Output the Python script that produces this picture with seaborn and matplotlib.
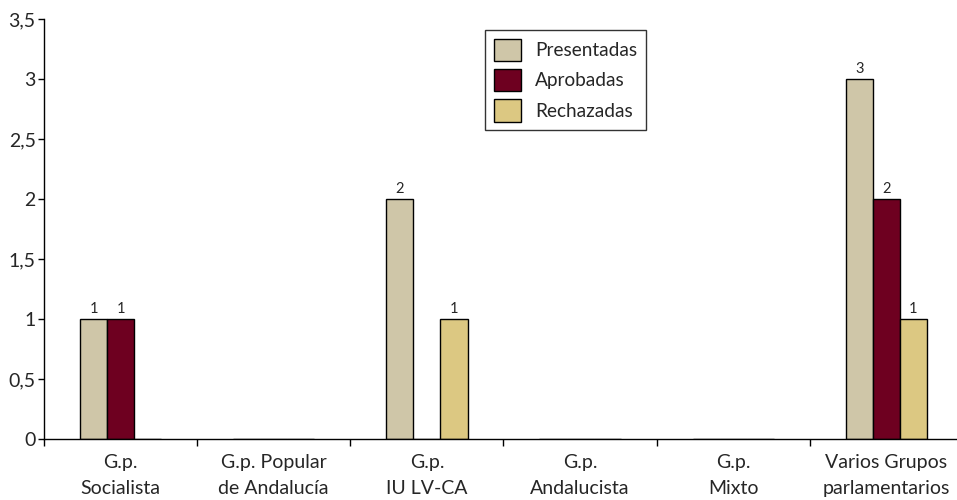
import matplotlib
matplotlib.use("Agg")
import matplotlib.pyplot as plt
import seaborn as sns
import pandas as pd
import numpy as np

categories = ["G.p.\nSocialista", "G.p. Popular\nde Andalucía", "G.p.\nIU LV-CA",
              "G.p.\nAndalucista", "G.p.\nMixto", "Varios Grupos\nparlamentarios"]
series = ["Presentadas", "Aprobadas", "Rechazadas"]
presentadas = [1, 0, 2, 0, 0, 3]
aprobadas = [1, 0, 0, 0, 0, 2]
rechazadas = [0, 0, 1, 0, 0, 1]
y_ticks = [0, 0.5, 1, 1.5, 2, 2.5, 3, 3.5]
y_tick_labels = ["0", "0,5", "1", "1,5", "2", "2,5", "3", "3,5"]
colors = ["#CFC6A8", "#6E0020", "#DCC882"]

rows = []
for s, vals in zip(series, [presentadas, aprobadas, rechazadas]):
    for c, v in zip(categories, vals):
        rows.append({"cat": c, "serie": s, "val": v})
df = pd.DataFrame(rows)

sns.set_style("white")
plt.rcParams['font.family'] = ['Lato', 'DejaVu Sans']

fig = plt.figure(figsize=(9.57, 5.0), dpi=100)
ax = fig.add_axes([44/957, 61/500, 919/957, 420/500])

sns.barplot(data=df, x="cat", y="val", hue="serie", order=categories, hue_order=series,
            palette=colors, width=0.53, gap=0, edgecolor="black", linewidth=1,
            saturation=1, errorbar=None, ax=ax)

for cont in ax.containers:
    labels = ["%d" % v if v > 0 else "" for v in cont.datavalues]
    ax.bar_label(cont, labels=labels, padding=2, fontsize=10.5)

ax.set_xlim(-0.5, len(categories) - 0.5)
ax.set_ylim(0, 3.5)
ax.set_yticks(y_ticks)
ax.set_yticklabels(y_tick_labels, fontsize=14)
ax.set_xticks(range(len(categories)))
ax.set_xticklabels(categories, fontsize=14, linespacing=1.65)
ax.set_xticks(np.arange(-0.5, len(categories) + 0.5, 1), minor=True)
ax.tick_params(axis="x", which="major", bottom=True, length=0, pad=11)
ax.tick_params(axis="x", which="minor", bottom=True, length=5, width=1, color="black", direction="out")
ax.tick_params(axis="y", which="major", left=True, length=4, width=1, color="black", direction="out", pad=2)
ax.set_xlabel("")
ax.set_ylabel("")
for sp in ["top", "right"]:
    ax.spines[sp].set_visible(False)
for sp in ["left", "bottom"]:
    ax.spines[sp].set_color("black")
    ax.spines[sp].set_linewidth(1)

leg = ax.legend(loc="upper left", bbox_to_anchor=((485-44)/919, (439-30)/420),
                fontsize=13.7, frameon=True, fancybox=False, edgecolor="black",
                handlelength=1.45, handleheight=1.45, labelspacing=0.4,
                borderpad=0.45, handletextpad=0.75, borderaxespad=0)
leg.get_frame().set_linewidth(1)
for h in leg.legend_handles:
    h.set_edgecolor("black")
    h.set_linewidth(1)

fig.savefig("out.png", dpi=100, facecolor="white")
